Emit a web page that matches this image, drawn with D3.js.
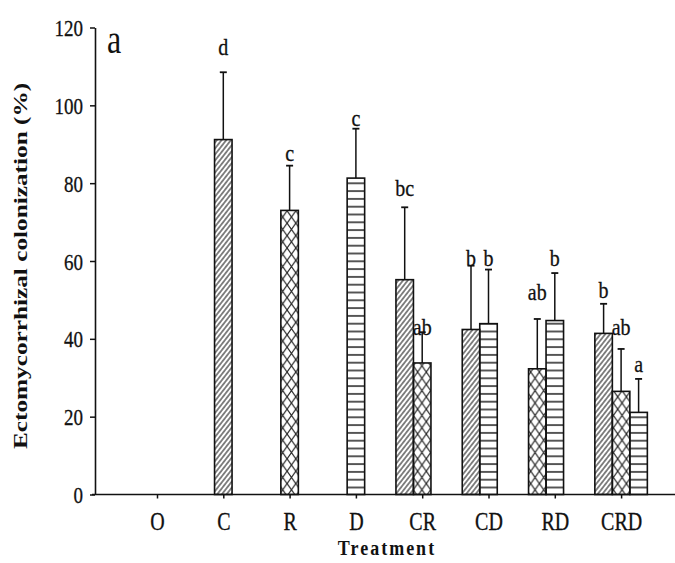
<!DOCTYPE html>
<html>
<head>
<meta charset="utf-8">
<script src="https://cdn.jsdelivr.net/npm/d3@7"></script>
<style>
  html, body { margin: 0; padding: 0; background: #fff; }
  svg { display: block; }
  text { font-family: "Liberation Serif", "Times New Roman", serif; fill: #111; }
</style>
</head>
<body>
<div id="chart"></div>
<script>
// Ectomycorrhizal colonization by treatment, panel (a)

const categories = ['O', 'C', 'R', 'D', 'CR', 'CD', 'RD', 'CRD'];

// one entry per bar: which treatment it sits in, and which fungus it shows
const barGroup = ['C', 'R', 'D', 'CR', 'CR', 'CD', 'CD', 'RD', 'RD', 'CRD', 'CRD', 'CRD'];
const barFungus = ['C', 'R', 'D', 'C', 'R', 'C', 'D', 'R', 'D', 'C', 'R', 'D'];
const means = [91.2, 73.0, 81.3, 55.2, 33.8, 42.4, 43.9, 32.3, 44.7, 41.4, 26.5, 21.1];
const errors = [17.3, 11.5, 12.7, 18.6, 7.9, 16.4, 13.9, 12.8, 12.2, 7.6, 10.9, 8.6];

// significance letters and the value where each one sits
const letters = ['d', 'c', 'c', 'bc', 'ab', 'b', 'b', 'ab', 'b', 'b', 'ab', 'a'];
const letterAt = [113, 85.8, 94.8, 76.8, 40.9, 58.8, 58.8, 50.1, 58.8, 50.4, 40.9, 31.4];

const yTicks = [0, 20, 40, 60, 80, 100, 120];

const width = 675;
const height = 563;
const axisLeftX = 95;
const axisRightX = 675;
const barW = 17.5;

const svg = d3.select('#chart').append('svg')
  .attr('width', width)
  .attr('height', height);

const x = d3.scalePoint()
  .domain(categories)
  .range([axisLeftX + 62, axisLeftX + 62 + 66.3 * (categories.length - 1)]);

const y = d3.scaleLinear()
  .domain([0, 120])
  .range([494.5, 27.5]);

// fill patterns, one per fungus
const defs = svg.append('defs');

defs.append('pattern')
  .attr('id', 'pat-C')
  .attr('patternUnits', 'userSpaceOnUse')
  .attr('width', 10)
  .attr('height', 3.7)
  .attr('patternTransform', 'rotate(-52)')
  .append('line')
  .attr('x1', 0).attr('x2', 10)
  .attr('y1', 1.85).attr('y2', 1.85)
  .attr('stroke', '#222')
  .attr('stroke-width', 1.1);

const cross = defs.append('pattern')
  .attr('id', 'pat-R')
  .attr('patternUnits', 'userSpaceOnUse')
  .attr('width', 8.7)
  .attr('height', 12.4);
cross.append('path')
  .attr('d', 'M0,0L8.7,12.4M8.7,0L0,12.4')
  .attr('stroke', '#222')
  .attr('stroke-width', 1.2)
  .attr('fill', 'none');

defs.append('pattern')
  .attr('id', 'pat-D')
  .attr('patternUnits', 'userSpaceOnUse')
  .attr('width', 10)
  .attr('height', 7.8)
  .append('line')
  .attr('x1', 0).attr('x2', 10)
  .attr('y1', 3.9).attr('y2', 3.9)
  .attr('stroke', '#111')
  .attr('stroke-width', 1.4);

// bar positions: a lone bar sits on the tick, in a group the second bar does
const bars = means.map((m, i) => {
  const members = barGroup.filter((g) => g === barGroup[i]);
  const j = barGroup.slice(0, i).filter((g) => g === barGroup[i]).length;
  const offset = members.length === 1 ? 0 : j - 1;
  const cx = x(barGroup[i]) + offset * barW;
  return {
    cx: cx,
    mean: m,
    err: errors[i],
    fungus: barFungus[i],
    letter: letters[i],
    letterAt: letterAt[i],
  };
});

const plot = svg.append('g');

plot.selectAll('rect.bar')
  .data(bars)
  .join('rect')
  .attr('class', 'bar')
  .attr('x', (d) => d.cx - barW / 2)
  .attr('y', (d) => y(d.mean))
  .attr('width', barW)
  .attr('height', (d) => y(0) - y(d.mean))
  .attr('fill', (d) => `url(#pat-${d.fungus})`)
  .attr('stroke', '#111')
  .attr('stroke-width', 1.6);

// upper error bars
plot.selectAll('line.err')
  .data(bars)
  .join('line')
  .attr('class', 'err')
  .attr('x1', (d) => d.cx)
  .attr('x2', (d) => d.cx)
  .attr('y1', (d) => y(d.mean))
  .attr('y2', (d) => y(d.mean + d.err))
  .attr('stroke', '#111')
  .attr('stroke-width', 1.5);

plot.selectAll('line.cap')
  .data(bars)
  .join('line')
  .attr('class', 'cap')
  .attr('x1', (d) => d.cx - 3.5)
  .attr('x2', (d) => d.cx + 3.5)
  .attr('y1', (d) => y(d.mean + d.err))
  .attr('y2', (d) => y(d.mean + d.err))
  .attr('stroke', '#111')
  .attr('stroke-width', 1.8);

plot.selectAll('text.letter')
  .data(bars)
  .join('text')
  .attr('class', 'letter')
  .attr('text-anchor', 'middle')
  .attr('font-size', 20)
  .attr('stroke', '#111')
  .attr('stroke-width', 0.25)
  .attr('transform', (d) => `translate(${d.cx},${y(d.letterAt)}) scale(1,1.12)`)
  .text((d) => d.letter);

// y axis
const yAxis = svg.append('g')
  .attr('transform', `translate(${axisLeftX},0)`)
  .call(d3.axisLeft(y).tickValues(yTicks).tickSize(5).tickSizeOuter(0).tickPadding(7));
yAxis.select('.domain').attr('stroke', '#111').attr('stroke-width', 1.6);
yAxis.selectAll('.tick line').attr('stroke', '#111').attr('stroke-width', 1.5);
yAxis.selectAll('.tick text')
  .attr('font-size', 19)
  .attr('font-family', '"Liberation Serif", serif')
  .attr('fill', '#111')
  .attr('stroke', '#111')
  .attr('stroke-width', 0.25)
  .attr('dy', '0.34em')
  .attr('transform', 'scale(1,1.25)');

// x axis
const xAxis = svg.append('g')
  .attr('transform', `translate(0,${y(0)})`)
  .call(d3.axisBottom(x).tickSize(4).tickSizeOuter(0));
xAxis.select('.domain').remove();
xAxis.append('line')
  .attr('x1', axisLeftX - 3)
  .attr('x2', axisRightX)
  .attr('stroke', '#111')
  .attr('stroke-width', 1.6);
xAxis.selectAll('.tick line').attr('stroke', '#111').attr('stroke-width', 1.5);
xAxis.selectAll('.tick text')
  .attr('font-size', 20)
  .attr('font-family', '"Liberation Serif", serif')
  .attr('fill', '#111')
  .attr('stroke', '#111')
  .attr('stroke-width', 0.25)
  .attr('y', 0)
  .attr('dy', 0)
  .attr('transform', 'translate(0,35) scale(1,1.25)');

// axis titles
svg.append('text')
  .attr('text-anchor', 'middle')
  .attr('font-weight', 'bold')
  .attr('font-size', 18)
  .attr('letter-spacing', 2)
  .attr('transform', `translate(${(axisLeftX + axisRightX) / 2 + 2},555) scale(1,1.22)`)
  .text('Treatment');

svg.append('text')
  .attr('text-anchor', 'middle')
  .attr('font-weight', 'bold')
  .attr('font-size', 19)
  .attr('transform', 'translate(27,266) rotate(-90) scale(1.33,1)')
  .text('Ectomycorrhizal colonization (%)');

// panel letter
svg.append('text')
  .attr('font-size', 32)
  .attr('transform', 'translate(107,53) scale(1,1.25)')
  .text('a');
</script>
</body>
</html>
